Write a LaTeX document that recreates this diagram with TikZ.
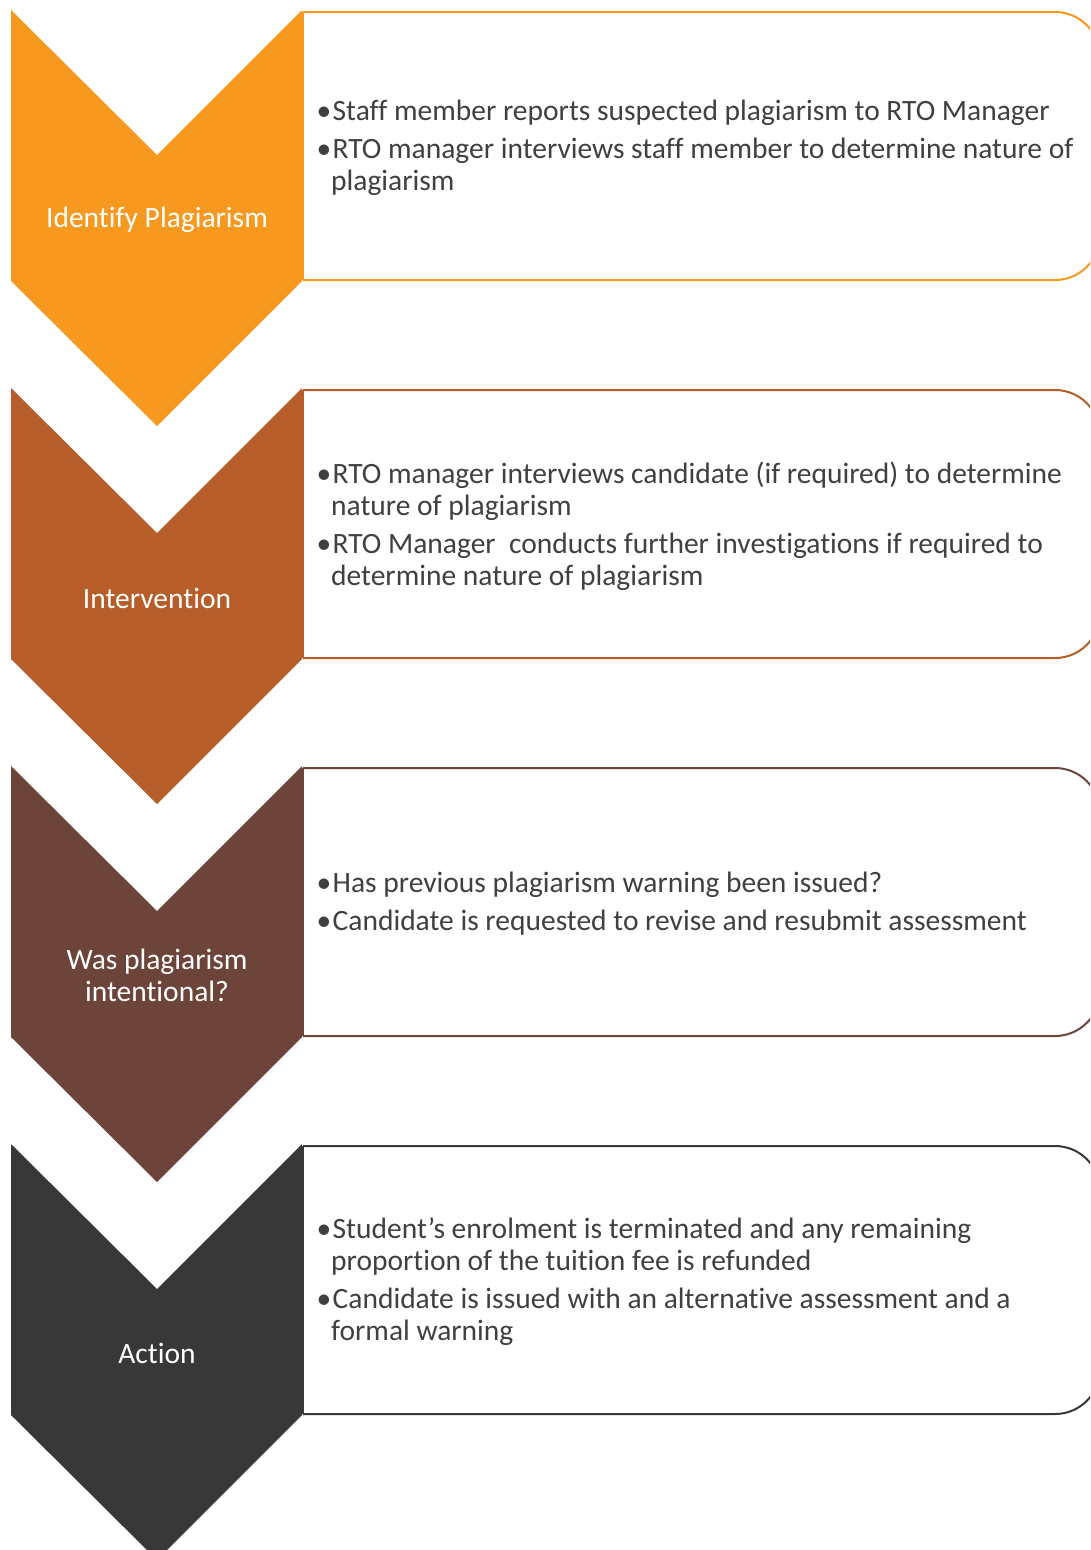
\documentclass[tikz,border=0pt]{standalone}
\usepackage{fontspec}
\setmainfont{Carlito}[Ligatures=NoCommon]
\definecolor{stepA}{HTML}{F7981F}
\definecolor{stepB}{HTML}{B75D29}
\definecolor{stepC}{HTML}{6D4439}
\definecolor{stepD}{HTML}{383838}
\definecolor{bodytext}{HTML}{404040}
\newcommand{\bul}{\llap{•}\kern1.5pt}
\begin{document}
\begin{tikzpicture}[x=1pt,y=-1pt,
  chevlabel/.style={text=white,font=\fontsize{29.5}{32}\selectfont,align=center},
  boxtext/.style={text=bodytext,font=\fontsize{29.5}{32}\selectfont,align=left,anchor=west,inner sep=0pt},
  boxline/.style={line width=2pt}]
\useasboundingbox (0,0) rectangle (1090,1550);
\clip (0,0) rectangle (1090,1550);
\fill[white] (0,0) rectangle (1090,1550);
% one stage: chevron, rounded text panel and the chevron's label
\foreach \i/\col in {0/stepA,1/stepB,2/stepC,3/stepD}{
  \pgfmathsetmacro{\oy}{378*\i}
  \begin{scope}[yshift=-\oy pt]
    \draw[boxline,draw=\col,rounded corners=45pt] (303,12) -- (1100,12) -- (1100,280) -- (303,280);
    \draw[boxline,draw=\col] (303,12) -- (303,280);
    \fill[\col] (11,10) -- (157,155) -- (302,10) -- (302,281) -- (157,426) -- (11,281) -- cycle;
  \end{scope}
}
\node[chevlabel] (c1) at (157,220) {Identify Plagiarism};
\node[chevlabel] (c2) at (157,598) {Intervention};
\node[chevlabel] (c3) at (157,975) {Was plagiarism\\intentional?};
\node[chevlabel] (c4) at (157,1353) {Action};
\node[boxtext] (t1) at (331,148) {\bul Staff member reports suspected plagiarism to RTO Manager\\[6pt]
\bul RTO manager interviews staff member to determine nature of\\plagiarism};
\node[boxtext] (t2) at (331,526) {\bul RTO manager interviews candidate (if required) to determine\\nature of plagiarism\\[6pt]
\bul RTO Manager\ \ conducts further investigations if required to\\determine nature of plagiarism};
\node[boxtext] (t3) at (331,904) {\bul Has previous plagiarism warning been issued?\\[6pt]
\bul Candidate is requested to revise and resubmit assessment};
\node[boxtext] (t4) at (331,1282) {\bul Student’s enrolment is terminated and any remaining\\proportion of the tuition fee is refunded\\[6pt]
\bul Candidate is issued with an alternative assessment and a\\formal warning};
\end{tikzpicture}
\end{document}
